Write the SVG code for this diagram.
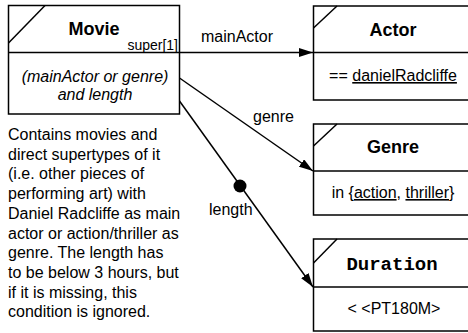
<svg xmlns="http://www.w3.org/2000/svg" width="468" height="333" viewBox="0 0 468 333">
  <style>
    .box { fill: #ffffff; stroke: #000000; stroke-width: 1.5; }
    .rule { stroke: #000000; stroke-width: 1.5; fill: none; }
    .title { font-family: "Liberation Sans", Arial, sans-serif; font-weight: bold; font-size: 18px; fill: #000; text-anchor: middle; }
    .mono { font-family: "Liberation Mono", "Courier New", monospace; font-weight: bold; font-size: 19px; fill: #000; text-anchor: middle; }
    .body { font-family: "Liberation Sans", Arial, sans-serif; font-size: 16px; fill: #000; text-anchor: middle; }
    .label { font-family: "Liberation Sans", Arial, sans-serif; font-size: 16px; fill: #000; }
    .small { font-family: "Liberation Sans", Arial, sans-serif; font-size: 14px; fill: #000; text-anchor: end; }
    .edge { stroke: #000000; stroke-width: 1.5; fill: none; }
    .u { text-decoration: underline; }
  </style>
  <defs>
    <marker id="arrow" markerUnits="userSpaceOnUse" markerWidth="14" markerHeight="9" refX="14" refY="4.5" orient="auto">
      <path d="M0,0 L14,4.5 L0,9 Z" fill="#000"/>
    </marker>
  </defs>

  <!-- Movie -->
  <g id="movie">
    <rect class="box" x="8.5" y="5.5" width="171" height="108.5"/>
    <line class="rule" x1="8.5" y1="43" x2="45" y2="5.5"/>
    <line class="rule" x1="8.5" y1="52.5" x2="179.5" y2="52.5"/>
    <text class="title" x="94" y="34.5">Movie</text>
    <text class="small" x="178" y="50">super[1]</text>
    <text class="body" x="95" y="82" font-style="italic">(mainActor or genre)</text>
    <text class="body" x="95" y="100" font-style="italic">and length</text>
  </g>

  <!-- Actor -->
  <g id="actor">
    <rect class="box" x="313.5" y="6" width="170" height="94"/>
    <line class="rule" x1="313.5" y1="28" x2="337" y2="6"/>
    <line class="rule" x1="313.5" y1="52.5" x2="483" y2="52.5"/>
    <text class="title" x="393" y="36">Actor</text>
    <text class="body" x="393" y="81">== <tspan class="u">danielRadcliffe</tspan></text>
  </g>

  <!-- Genre -->
  <g id="genre">
    <rect class="box" x="313.5" y="124" width="170" height="91"/>
    <line class="rule" x1="313.5" y1="146" x2="337" y2="124"/>
    <line class="rule" x1="313.5" y1="171" x2="483" y2="171"/>
    <text class="title" x="393" y="153">Genre</text>
    <text class="body" x="393" y="198">in {<tspan class="u">action</tspan>, <tspan class="u">thriller</tspan>}</text>
  </g>

  <!-- Duration -->
  <g id="duration">
    <rect class="box" x="313.5" y="239" width="170" height="92"/>
    <line class="rule" x1="313.5" y1="263" x2="337" y2="239"/>
    <line class="rule" x1="313.5" y1="287" x2="483" y2="287"/>
    <text class="mono" x="392" y="270">Duration</text>
    <text class="body" x="394" y="314">&lt; &lt;PT180M&gt;</text>
  </g>

  <!-- Note -->
  <g id="note" class="label">
    <text x="8" y="140">Contains movies and</text>
    <text x="8" y="159.7">direct supertypes of it</text>
    <text x="8" y="179.4">(i.e. other pieces of</text>
    <text x="8" y="199.1">performing art) with</text>
    <text x="8" y="218.8">Daniel Radcliffe as main</text>
    <text x="8" y="238.5">actor or action/thriller as</text>
    <text x="8" y="258.2">genre. The length has</text>
    <text x="8" y="277.9">to be below 3 hours, but</text>
    <text x="8" y="297.6">if it is missing, this</text>
    <text x="8" y="317.3">condition is ignored.</text>
  </g>

  <!-- Connectors -->
  <g id="connectors">
    <line class="edge" x1="179.5" y1="52.5" x2="313" y2="52.5" marker-end="url(#arrow)"/>
    <text class="label" x="237" y="42" text-anchor="middle">mainActor</text>
    <line class="edge" x1="179.5" y1="78" x2="313" y2="171" marker-end="url(#arrow)"/>
    <text class="label" x="253" y="122">genre</text>
    <line class="edge" x1="179.5" y1="101" x2="313" y2="287" marker-end="url(#arrow)"/>
    <circle cx="240" cy="186" r="6.5" fill="#000"/>
    <text class="label" x="209" y="215">length</text>
  </g>
</svg>
